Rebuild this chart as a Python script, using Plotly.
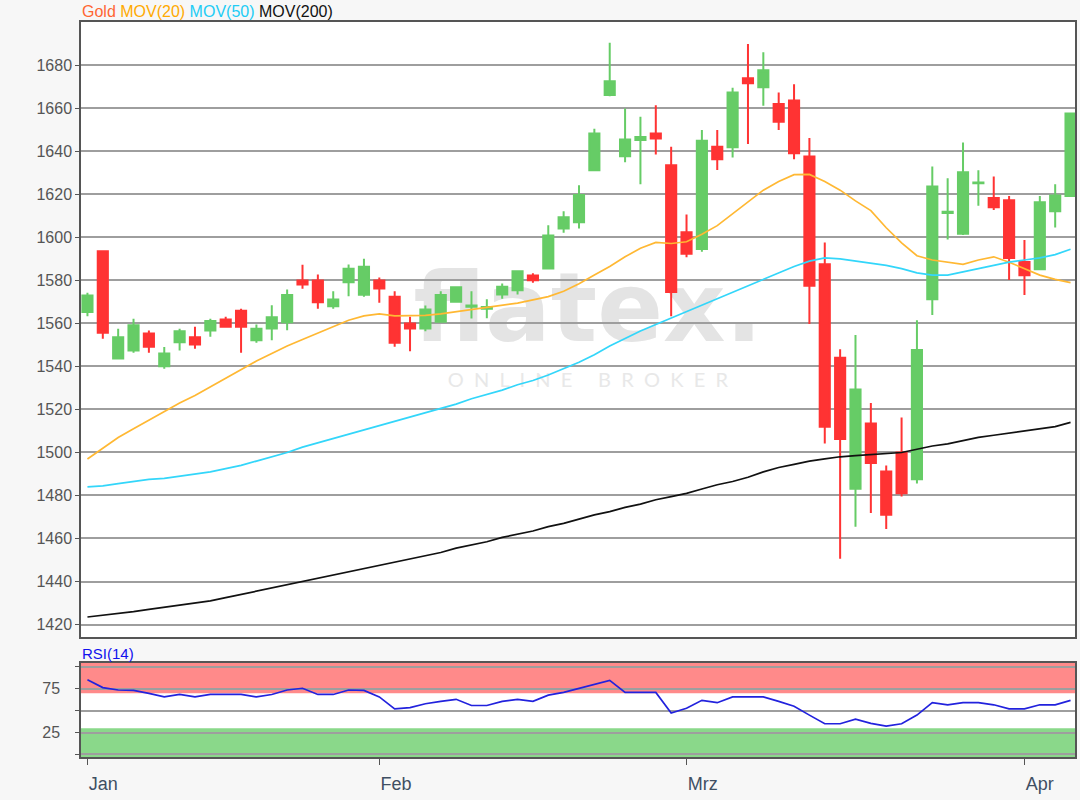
import plotly.graph_objects as go

# ---------------- data ----------------
month_labels = ["Jan", "Feb", "Mrz", "Apr"]
month_pos = [0, 19, 39, 61]

open_ = [1565.3, 1593.6, 1543.7, 1547.4, 1555.3, 1540.1, 1551.3, 1553.6, 1556.7, 1561.9,
         1565.9, 1552.2, 1557.7, 1560.6, 1580.0, 1580.0, 1568.0, 1579.2, 1573.3, 1580.0,
         1572.4, 1560.0, 1557.7, 1560.8, 1570.1, 1567.8, 1566.8, 1573.5, 1575.5, 1582.3,
         1585.6, 1604.2, 1607.1, 1631.3, 1666.2, 1637.8, 1645.3, 1648.4, 1633.6, 1602.4,
         1594.6, 1642.2, 1641.9, 1674.0, 1669.9, 1662.1, 1663.7, 1637.7, 1587.5, 1544.1,
         1483.1, 1513.5, 1491.1, 1500.0, 1487.6, 1571.3, 1611.4, 1601.7, 1625.2, 1618.3,
         1617.3, 1588.6, 1585.2, 1612.2, 1619.3]
high = [1574.3, 1593.8, 1557.5, 1562.2, 1556.7, 1549.0, 1557.5, 1558.5, 1562.2, 1563.1,
        1566.8, 1559.5, 1568.5, 1575.8, 1587.3, 1582.8, 1575.0, 1587.4, 1590.1, 1581.4,
        1575.0, 1563.1, 1568.4, 1575.0, 1577.2, 1575.0, 1571.3, 1578.6, 1584.5, 1583.3,
        1605.7, 1612.2, 1624.3, 1650.6, 1690.6, 1660.0, 1656.1, 1661.5, 1642.2, 1610.7,
        1650.0, 1650.0, 1669.6, 1690.0, 1686.1, 1667.4, 1671.2, 1646.3, 1597.7, 1548.0,
        1554.6, 1523.0, 1494.0, 1516.3, 1561.5, 1633.0, 1627.5, 1644.2, 1631.2, 1628.4,
        1619.3, 1598.8, 1619.3, 1624.7, 1657.9]
low = [1563.4, 1552.9, 1543.5, 1546.4, 1546.4, 1538.9, 1547.4, 1548.2, 1553.8, 1558.3,
       1546.4, 1551.0, 1552.2, 1556.9, 1576.1, 1566.8, 1566.8, 1572.7, 1572.4, 1569.6,
       1549.2, 1547.1, 1556.4, 1560.3, 1570.0, 1562.3, 1562.4, 1571.5, 1573.5, 1578.9,
       1585.4, 1602.2, 1604.2, 1631.0, 1665.7, 1635.0, 1624.7, 1638.6, 1563.4, 1590.8,
       1593.3, 1631.4, 1637.2, 1643.5, 1661.3, 1650.0, 1636.4, 1559.8, 1504.2, 1450.6,
       1465.5, 1471.9, 1464.4, 1479.5, 1485.6, 1563.9, 1599.1, 1601.2, 1614.8, 1612.8,
       1580.2, 1573.2, 1585.0, 1604.6, 1619.1]
close = [1573.0, 1555.7, 1553.6, 1559.2, 1549.2, 1546.0, 1556.4, 1550.2, 1561.1, 1558.5,
         1558.5, 1557.5, 1562.9, 1573.2, 1578.1, 1569.9, 1571.2, 1585.4, 1586.4, 1576.3,
         1551.0, 1557.7, 1566.5, 1573.2, 1576.9, 1568.3, 1567.6, 1577.1, 1584.3, 1580.1,
         1600.9, 1609.4, 1619.7, 1648.4, 1672.7, 1645.6, 1646.7, 1646.0, 1574.6, 1592.4,
         1645.0, 1636.4, 1667.4, 1671.7, 1677.8, 1653.8, 1639.2, 1577.5, 1512.0, 1506.3,
         1529.3, 1495.1, 1471.0, 1481.0, 1547.7, 1623.7, 1611.9, 1630.3, 1625.6, 1614.0,
         1590.4, 1582.4, 1616.4, 1619.5, 1657.7]

mov20 = [1497.0, 1502.0, 1507.0, 1511.0, 1515.0, 1519.0, 1523.0, 1526.5, 1530.5, 1534.5,
         1538.5, 1542.5, 1546.0, 1549.5, 1552.5, 1555.5, 1558.5, 1561.5, 1563.5, 1564.5,
         1563.5, 1563.5, 1563.8, 1564.5, 1565.5, 1566.5, 1567.5, 1568.5, 1569.5, 1571.0,
         1572.5, 1575.0, 1578.5, 1582.5, 1586.5, 1591.0, 1595.0, 1597.7, 1597.2, 1598.0,
         1601.5, 1605.5, 1611.0, 1616.5, 1622.0, 1626.0, 1629.2, 1629.3, 1626.0, 1622.0,
         1617.0, 1612.5, 1604.5, 1597.5, 1591.5, 1589.5, 1588.5, 1587.5, 1589.5, 1591.0,
         1588.5, 1585.5, 1582.5, 1580.5, 1579.0]
mov50 = [1484.0, 1484.5, 1485.5, 1486.5, 1487.5, 1488.0, 1489.0, 1490.0, 1491.0, 1492.5,
         1494.0, 1496.0, 1498.0, 1500.0, 1502.5, 1504.5, 1506.5, 1508.5, 1510.5, 1512.5,
         1514.5, 1516.5, 1518.5, 1520.5, 1522.5, 1525.0, 1527.0, 1529.0, 1531.5, 1533.5,
         1536.0, 1539.0, 1542.0, 1545.5, 1549.5, 1553.0, 1556.5, 1559.5, 1562.5, 1565.5,
         1568.5, 1571.5, 1574.5, 1577.5, 1580.5, 1583.5, 1586.5, 1589.0, 1590.5, 1590.0,
         1589.0, 1588.0, 1587.0, 1585.5, 1583.5, 1582.5, 1582.5, 1584.0, 1585.5, 1587.0,
         1588.5, 1589.5, 1590.5, 1592.0, 1594.5]
mov200 = [1423.5, 1424.3, 1425.0, 1426.0, 1427.0, 1428.0, 1429.0, 1430.0, 1431.0, 1432.5,
          1434.0, 1435.5, 1437.0, 1438.5, 1440.0, 1441.5, 1443.0, 1444.5, 1446.0, 1447.5,
          1449.0, 1450.5, 1452.0, 1453.5, 1455.5, 1457.0, 1458.5, 1460.5, 1462.0, 1463.5,
          1465.5, 1467.0, 1469.0, 1471.0, 1472.5, 1474.5, 1476.0, 1478.0, 1479.5, 1481.0,
          1483.0, 1485.0, 1486.5, 1488.5, 1491.0, 1493.0, 1494.5, 1496.0, 1497.0, 1498.0,
          1498.5, 1499.0, 1499.5, 1500.0, 1501.5, 1503.0, 1504.0, 1505.5, 1507.0, 1508.0,
          1509.0, 1510.0, 1511.0, 1512.0, 1514.0]
rsi14 = [85.4, 76.4, 73.6, 73.2, 69.7, 65.7, 68.5, 65.7, 68.5, 68.5,
         68.5, 65.7, 68.5, 73.6, 75.6, 68.5, 68.5, 73.6, 73.2, 65.7,
         52.0, 53.5, 57.9, 60.6, 63.0, 55.9, 55.9, 60.6, 63.0, 60.6,
         67.7, 70.9, 75.6, 80.3, 84.6, 70.9, 70.9, 70.9, 47.2, 52.8,
         61.8, 59.1, 65.7, 65.7, 65.7, 60.6, 55.1, 44.9, 35.0, 35.0,
         40.2, 35.4, 32.3, 35.0, 44.9, 59.1, 56.7, 59.1, 59.1, 56.7,
         52.0, 52.0, 56.7, 56.7, 61.8]

x = list(range(len(open_)))

# ---------------- styling ----------------
GREEN = "#66CC66"
RED = "#FF3333"
C20 = "#FFB833"
C50 = "#33D6FA"
C200 = "#111111"
GRID = "#9E9E9E"
FRAME = "#555555"
FONT = "Liberation Sans, Arial, sans-serif"

fig = go.Figure()

fig.add_trace(go.Candlestick(
    x=x, open=open_, high=high, low=low, close=close,
    increasing=dict(line=dict(color=GREEN, width=2), fillcolor=GREEN),
    decreasing=dict(line=dict(color=RED, width=2), fillcolor=RED),
    whiskerwidth=0, showlegend=False, xaxis="x", yaxis="y", name="Gold"))

for vals, col, nm in [(mov20, C20, "MOV(20)"), (mov50, C50, "MOV(50)"), (mov200, C200, "MOV(200)")]:
    fig.add_trace(go.Scatter(x=x, y=vals, mode="lines", line=dict(color=col, width=1.7),
                             showlegend=False, name=nm, xaxis="x", yaxis="y"))

fig.add_trace(go.Scatter(x=x, y=rsi14, mode="lines", line=dict(color="#2222DD", width=1.7),
                         showlegend=False, name="RSI(14)", xaxis="x2", yaxis="y2"))

XR = [-0.42, 64.29]
fig.update_layout(
    width=1080, height=800,
    margin=dict(l=81, r=3, t=22, b=43, pad=0),
    paper_bgcolor="#F7F7F7", plot_bgcolor="#FFFFFF",
    font=dict(family=FONT, size=15, color="#555555"),
    boxgap=0.34, boxgroupgap=0,
    xaxis=dict(domain=[0, 1], anchor="y", range=XR, showticklabels=False, ticks="",
               showgrid=False, zeroline=False, showline=True, mirror=True,
               linecolor=FRAME, linewidth=1.5, rangeslider=dict(visible=False)),
    yaxis=dict(domain=[0.1633, 1], anchor="x", range=[1414.2, 1700.2],
               tickvals=list(range(1420, 1700, 20)), ticks="outside", ticklen=4,
               tickcolor=FRAME, showgrid=True, gridcolor=GRID, gridwidth=1.6,
               zeroline=False, showline=True, mirror=True, linecolor=FRAME, linewidth=1.5,
               tickfont=dict(size=16, color="#555555")),
    xaxis2=dict(domain=[0, 1], anchor="y2", matches="x", range=XR,
                tickvals=month_pos, ticktext=month_labels, ticks="outside", ticklen=6,
                tickcolor=FRAME, ticklabelposition="outside right", ticklabelstandoff=10,
                showgrid=False, zeroline=False, showline=True, mirror=True,
                linecolor=FRAME, linewidth=1.5,
                tickfont=dict(size=18, color="#3F4F63"), rangeslider=dict(visible=False)),
    yaxis2=dict(domain=[0, 0.1279], anchor="x2", range=[-3, 104.5],
                tickvals=[0, 25, 50, 75, 100], ticktext=["", "25", "", "75", ""],
                ticks="outside", ticklen=4, tickcolor=FRAME, ticklabelstandoff=12,
                showgrid=True, gridcolor=GRID, gridwidth=1.6, zeroline=False,
                showline=True, mirror=True, linecolor=FRAME, linewidth=1.5,
                tickfont=dict(size=16, color="#555555")),
)

# RSI bands
fig.add_shape(type="rect", xref="x2 domain", yref="y2", x0=0, x1=1, y0=70, y1=104.5,
              fillcolor="#FF8A8A", line=dict(width=0), layer="below")
fig.add_shape(type="rect", xref="x2 domain", yref="y2", x0=0, x1=1, y0=-3, y1=30,
              fillcolor="#8AD88A", line=dict(width=0), layer="below")

# watermark (below the candles)
fig.add_shape(type="rect", xref="x domain", yref="y domain", x0=0.32, x1=0.70, y0=0.462, y1=0.632,
              line=dict(width=0), fillcolor="rgba(0,0,0,0)", layer="below",
              label=dict(text="<b>flatex.</b>", font=dict(family="DejaVu Sans, sans-serif", size=97, color="#E4E4E4"),
                         textposition="middle center"))
fig.add_shape(type="rect", xref="x domain", yref="y domain", x0=0.32, x1=0.70, y0=0.40, y1=0.44,
              line=dict(width=0), fillcolor="rgba(0,0,0,0)", layer="below",
              label=dict(text="O  N  L  I  N  E     B  R  O  K  E  R", font=dict(family="Lato, sans-serif", size=20, color="#E8E8E8"),
                         textposition="middle center"))

# header labels
fig.add_annotation(xref="paper", yref="paper", x=0, y=1, xanchor="left", yanchor="bottom",
                   showarrow=False, xshift=-1, yshift=0,
                   text=("<span style='color:#FF6633'>Gold</span> "
                         "<span style='color:#FFAA00'>MOV(20)</span> "
                         "<span style='color:#22CCF5'>MOV(50)</span> "
                         "<span style='color:#111111'>MOV(200)</span>"),
                   font=dict(family=FONT, size=16))
fig.add_annotation(xref="paper", yref="y2 domain", x=0, y=1, xanchor="left", yanchor="bottom",
                   showarrow=False, xshift=-1, yshift=-1, text="RSI(14)",
                   font=dict(family=FONT, size=15, color="#1111EE"))

# the page itself gets no default body margin so the 1080x800 figure fills the window
fig.write_html("out.html", config={"displayModeBar": False},
               post_script="document.body.style.margin='0';")
